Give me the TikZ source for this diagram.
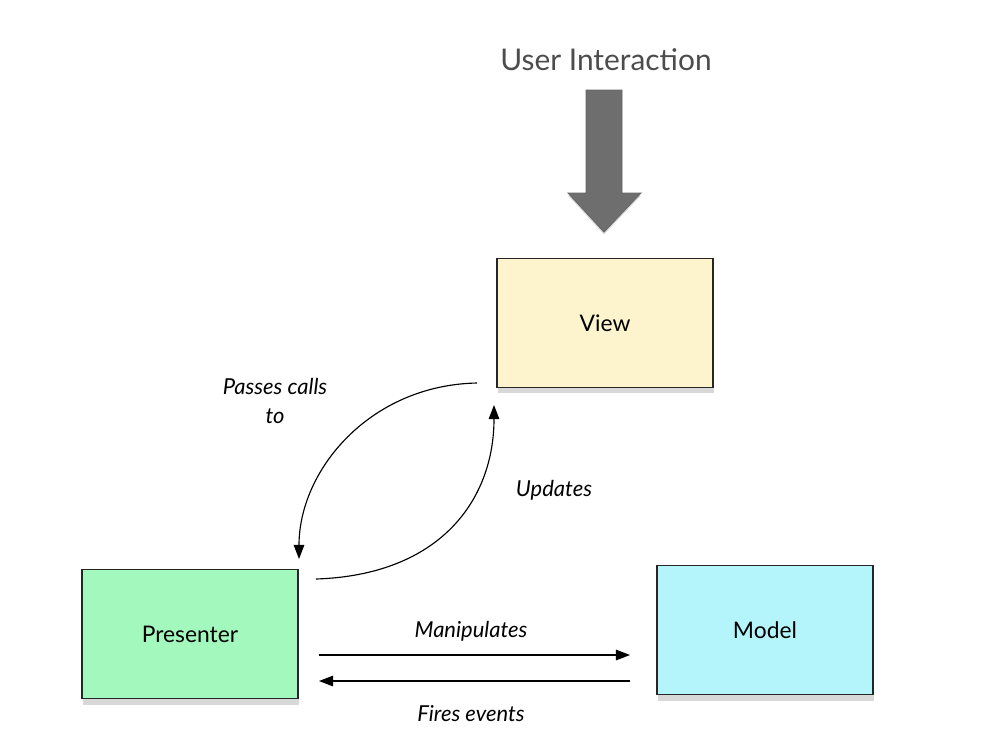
\documentclass[tikz,border=0pt]{standalone}
\usepackage{fontspec}
\setmainfont{Lato}
\usetikzlibrary{shadows,arrows.meta}
\definecolor{viewfill}{HTML}{FDF3CC}
\definecolor{presfill}{HTML}{A3F8BD}
\definecolor{modelfill}{HTML}{B4F5FB}
\definecolor{bigarrow}{HTML}{6E6E6E}
\tikzset{
	box/.style={draw=black!85, line width=0.8pt, minimum width=4.32cm, minimum height=2.58cm,
		font=\fontsize{13}{15}\selectfont, drop shadow={shadow xshift=0.02cm, shadow yshift=-0.12cm, opacity=0.3}},
	link/.style={-{Triangle[length=8pt,width=6pt]}, line width=0.65pt},
	lbl/.style={font=\itshape\fontsize{12.5}{17}\selectfont, align=center}
}
\begin{document}
\begin{tikzpicture}[x=0.02cm, y=-0.02cm]
		\useasboundingbox[fill=white] (0, 0) rectangle (984, 752);

		% the three parts
		\node[box, fill=viewfill] (view) at (605, 323) {View};
		\node[box, fill=presfill] (presenter) at (190, 634) {Presenter};
		\node[box, fill=modelfill] (model) at (765, 630) {Model};

		% user input from above
		\node[text=black!70, font=\fontsize{17}{20}\selectfont] (user) at (606, 60) {User Interaction};
		\draw[draw=black!60, fill=bigarrow, line width=0.5pt, drop shadow={shadow xshift=0pt, shadow yshift=-0.05cm, opacity=0.3}]
			(586, 90) -- (622, 90) -- (622, 193) -- (641, 193) -- (604, 232) -- (568, 193) -- (586, 193) -- cycle;

		% curved links between view and presenter
		\coordinate (pcStart) at (477, 383);
		\coordinate (pcEnd) at (299, 559);
		\coordinate (upStart) at (316, 579);
		\coordinate (upEnd) at (494, 405);
		\draw[link] (pcStart) .. controls (370, 385) and (299, 470) .. (pcEnd);
		\draw[link] (upStart) .. controls (440, 575) and (494, 500) .. (upEnd);
		\node[lbl] (passes) at (275, 401) {Passes calls\\to};
		\node[lbl] (updates) at (554, 490) {Updates};

		% straight links between presenter and model
		\coordinate (manStart) at (319, 655);
		\coordinate (manEnd) at (630, 655);
		\coordinate (fireStart) at (630, 681);
		\coordinate (fireEnd) at (319, 681);
		\draw[link] (manStart) -- (manEnd);
		\draw[link] (fireStart) -- (fireEnd);
		\node[lbl] (manip) at (471, 631) {Manipulates};
		\node[lbl] (fires) at (471, 714) {Fires events};
	\end{tikzpicture}
\end{document}
